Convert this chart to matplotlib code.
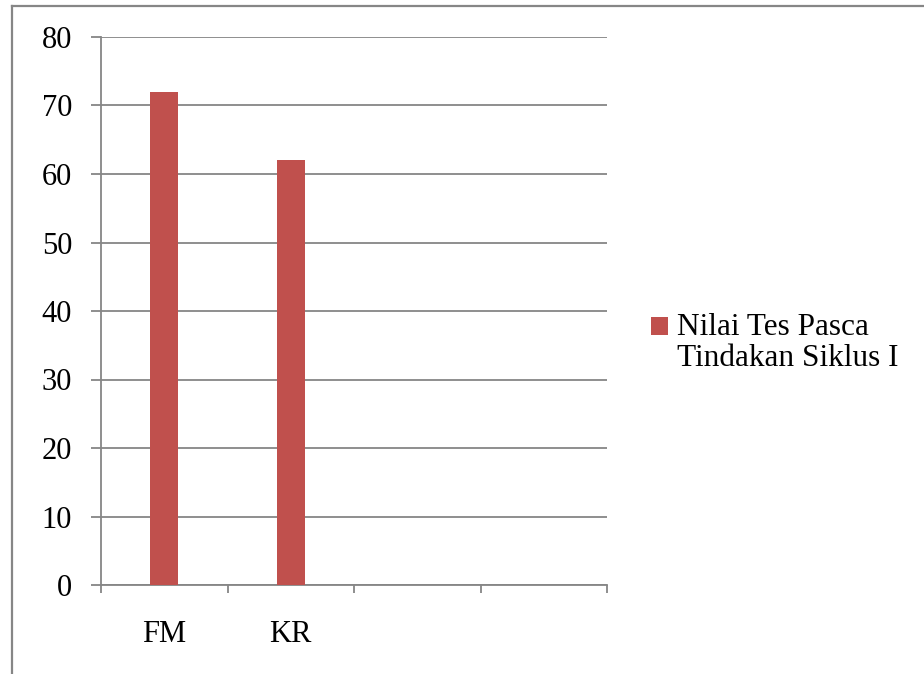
import matplotlib.pyplot as plt
from matplotlib.patches import Patch, Rectangle
from matplotlib.lines import Line2D
from matplotlib.legend_handler import HandlerPatch

# Data
categories = ['FM', 'KR', '', '']
scores = [72, 62]
series_name = 'Nilai Tes Pasca\nTindakan Siklus I'
yticks = [0, 10, 20, 30, 40, 50, 60, 70, 80]

bar_color = '#C0504D'
line_color = '#868686'
font_size = 22
legend_size = 22.5
line_spacing = 1.1

plt.rcParams['font.family'] = ['Liberation Serif', 'DejaVu Serif']

W, H = 924, 674
fig = plt.figure(figsize=(W / 100, H / 100), dpi=100)
fig.patch.set_facecolor('white')

# axes box in pixel terms
x0, x1, y_top, y_bot = 101, 607, 37, 585
ax = fig.add_axes([x0 / W, (H - y_bot) / H, (x1 - x0) / W, (y_bot - y_top) / H])

ax.bar(range(len(scores)), scores, width=0.22, color=bar_color, zorder=3)

ax.set_xlim(-0.5, len(categories) - 0.5)
ax.set_ylim(0, 80)
ax.set_yticks(yticks)
ax.yaxis.grid(True, color=line_color, linewidth=1.3, zorder=0)

ax.set_xticks(range(len(categories)))
ax.set_xticklabels(categories)
ax.set_xticks([i - 0.5 for i in range(len(categories) + 1)], minor=True)
ax.tick_params(axis='x', which='major', length=0, pad=25, labelsize=font_size)
ax.tick_params(axis='x', which='minor', length=6, width=1.3, color=line_color)
ax.tick_params(axis='y', length=7.2, width=1.3, color=line_color, pad=13.5, labelsize=font_size)

for side in ['top', 'right']:
    ax.spines[side].set_visible(False)
for side in ['left', 'bottom']:
    ax.spines[side].set_color(line_color)
    ax.spines[side].set_linewidth(1.3)


# legend key sits beside the first line of the two-line label
def first_line_square(legend, orig_handle, xdescent, ydescent, width, height, fontsize):
    shift = 0.5 * line_spacing * fontsize
    return Rectangle((-xdescent, -ydescent + shift), width, height)


handle = Patch(facecolor=bar_color, edgecolor='none')
leg = fig.legend([handle], [series_name], loc='upper left',
                 bbox_to_anchor=(651 / W, 1 - 313 / H), frameon=False,
                 fontsize=legend_size, handlelength=0.53, handleheight=0.53,
                 handletextpad=0.3, borderpad=0, borderaxespad=0,
                 handler_map={Patch: HandlerPatch(patch_func=first_line_square)})
for t in leg.get_texts():
    t.set_linespacing(line_spacing)

# outer chart border (top and left edges)
fig.add_artist(Line2D([12 / W, 1], [1 - 6 / H, 1 - 6 / H], color=line_color, linewidth=1.6))
fig.add_artist(Line2D([12 / W, 12 / W], [0, 1 - 6 / H], color=line_color, linewidth=1.6))

fig.savefig('out.png', dpi=100)
